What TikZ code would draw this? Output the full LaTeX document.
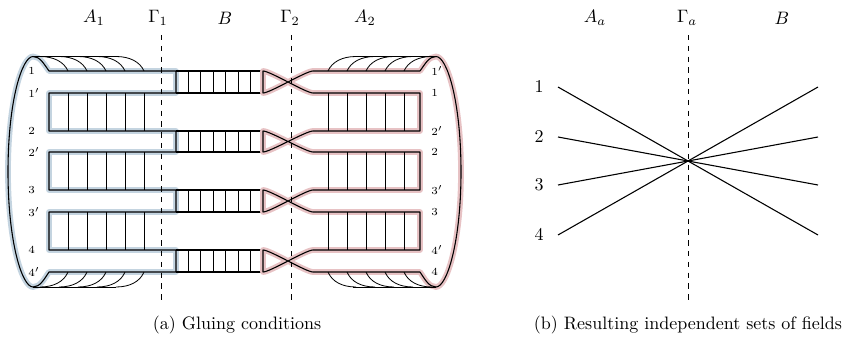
\documentclass[tikz,border=0pt]{standalone}
\definecolor{haloblue}{RGB}{196,212,224}
\definecolor{halopink}{RGB}{231,194,196}
\tikzset{
  strand/.style={line width=0.6pt, line join=round},
  rung/.style={line width=0.45pt},
  seam/.style={dashed, line width=0.45pt},
  bluehalo/.style={preaction={draw=haloblue, line width=3.2pt, line join=round}},
  pinkhalo/.style={preaction={draw=halopink, line width=3.2pt, line join=round}},
  endlabel/.style={font=\fontsize{6}{7}\selectfont, inner sep=0pt, anchor=west}
}
\begin{document}
\begin{tikzpicture}[x=0.5556pt, y=-0.5556pt, font=\fontsize{10}{12}\selectfont]
\useasboundingbox (0,0) rectangle (842,337);

% (a) gluing conditions
\node (a1) at (94,18) {$A_1$};
\node (g1) at (158,18) {$\Gamma_1$};
\node (b) at (225,18) {$B$};
\node (g2) at (290,18) {$\Gamma_2$};
\node (a2) at (365,18) {$A_2$};

% left region A_1
\draw[strand, bluehalo] (33,56.5) .. controls (40,56.5) and (44,64) .. (49,71)
  -- (176,71) -- (176,93) -- (49,93) -- (49,131) -- (176,131) -- (176,152)
  -- (49,152) -- (49,190) -- (176,190) -- (176,212) -- (49,212) -- (49,250)
  -- (176,250) -- (176,272) -- (49,272)
  .. controls (44,279.5) and (40,287) .. (33,287)
  .. controls (22,287) and (8,242) .. (8,171.75)
  .. controls (8,101) and (22,56.5) .. cycle;
\foreach \t/\b in {93/131,152/190,212/250}
  \foreach \x in {68,87,106,125,144}
    \draw[rung] (\x,\t) -- (\x,\b);
\foreach \x in {68,87,106,125,144} {
  \draw[rung] (\x,71) .. controls ({\x-4},62) and ({\x-14},56.5) .. ({\x-28},56.5);
  \draw[rung] (\x,272) .. controls ({\x-4},281.5) and ({\x-14},287) .. ({\x-28},287);
}
\draw[rung] (33,56.5) -- (116,56.5);
\draw[rung] (33,287) -- (116,287);

% middle region B
\foreach \t/\b in {71/93,131/152,190/212,250/272} {
  \draw[strand] (176,\t) -- (263,\t) (176,\b) -- (263,\b);
  \foreach \x in {188.4,200.9,213.3,225.7,238.1,250.6}
    \draw[rung] (\x,\t) -- (\x,\b);
}

% right region A_2 with the crossings
\draw[strand, pinkhalo] (263,71) .. controls (270,71) and (306,93) .. (313,93)
  -- (420,93) -- (420,131) -- (313,131)
  .. controls (306,131) and (270,152) .. (263,152) -- (263,131)
  .. controls (270,131) and (306,152) .. (313,152)
  -- (420,152) -- (420,190) -- (313,190)
  .. controls (306,190) and (270,212) .. (263,212) -- (263,190)
  .. controls (270,190) and (306,212) .. (313,212)
  -- (420,212) -- (420,250) -- (313,250)
  .. controls (306,250) and (270,272) .. (263,272) -- (263,250)
  .. controls (270,250) and (306,272) .. (313,272)
  -- (420,272) .. controls (425,279.5) and (429,287) .. (436,287)
  .. controls (447,287) and (461,242) .. (461,171.75)
  .. controls (461,101) and (447,56.5) .. (436,56.5)
  .. controls (429,56.5) and (425,64) .. (420,71)
  -- (313,71) .. controls (306,71) and (270,93) .. (263,93) -- cycle;
\foreach \t/\b in {93/131,152/190,212/250}
  \foreach \x in {328,347,366,385,404}
    \draw[rung] (\x,\t) -- (\x,\b);
\foreach \x in {328,347,366,385,404} {
  \draw[rung] (\x,71) .. controls ({\x+4},62) and ({\x+14},56.5) .. ({\x+28},56.5);
  \draw[rung] (\x,272) .. controls ({\x+4},281.5) and ({\x+14},287) .. ({\x+28},287);
}
\draw[rung] (353,56.5) -- (436,56.5);
\draw[rung] (353,287) -- (436,287);

% end labels
\foreach \y/\t [count=\i] in {71/1,93/1',131/2,152/2',190/3,212/3',250/4,272/4'}
  \node[endlabel] (lt\i) at (28,\y) {$\t$};
\foreach \y/\t [count=\i] in {71/1',93/1,131/2',152/2,190/3',212/3,250/4',272/4}
  \node[endlabel] (rt\i) at (431,\y) {$\t$};

\draw[seam] (161,35) -- (161,300);
\draw[seam] (291,35) -- (291,300);

% (b) independent sets
\node (aa) at (595,18) {$A_a$};
\node (ga) at (687,18) {$\Gamma_a$};
\node (bb) at (782,18) {$B$};
\draw[seam] (688,35) -- (688,300);
\coordinate (x0) at (688,161);
\foreach \y [count=\i] in {87,137,185,235} {
  \coordinate (p\i) at (558,\y);
  \coordinate (q\i) at (818,\y);
  \node (n\i) at (539,\y) {$\i$};
}
\foreach \i/\j in {1/4,2/3,3/2,4/1}
  \draw[strand] (p\i) -- (x0) -- (q\j);

% captions
\node (capa) at (237,325) {(a) Gluing conditions};
\node (capb) at (688,325) {(b) Resulting independent sets of fields};
\end{tikzpicture}
\end{document}
